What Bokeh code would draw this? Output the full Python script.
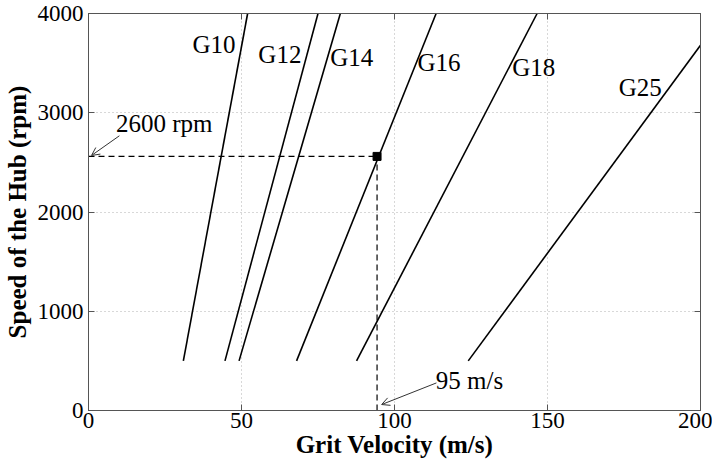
from bokeh.plotting import figure
from bokeh.embed import file_html
from bokeh.resources import INLINE
from bokeh.models import (Range1d, LinearAxis, FixedTicker, Arrow, OpenHead,
                          ColumnDataSource, Label)
from bokeh.core.properties import value

# ---- data ----
grades = ["G10", "G12", "G14", "G16", "G18", "G25"]
v_start = [31.0, 44.6, 49.2, 68.0, 87.6, 124.1]
rpm_start = [500, 500, 500, 500, 500, 500]
v_end = [52.0, 75.0, 82.3, 113.6, 146.6, 200.0]
rpm_end = [4000, 4000, 4000, 4000, 4000, 3680]

label_x = [34.0, 55.5, 79.0, 107.5, 138.5, 173.3]
label_y = [3690, 3590, 3555, 3505, 3455, 3255]

op_velocity = 94.3
op_rpm = 2560
rpm_text = "2600 rpm"
vel_text = "95 m/s"

x_ticks = [0, 50, 100, 150, 200]
y_ticks = [0, 1000, 2000, 3000, 4000]
x_title = "Grit Velocity (m/s)"
y_title = "Speed of the Hub (rpm)"

FONT = "Liberation Serif"
TXT = "25px"

p = figure(width=712, height=460, output_backend="svg", toolbar_location=None,
           x_range=Range1d(0, 200), y_range=Range1d(0, 4000),
           min_border_left=86, min_border_right=12, min_border_top=13,
           min_border_bottom=46)
p.outline_line_color = "#555555"
p.background_fill_color = "white"
p.border_fill_color = "white"

for ax in (p.xaxis[0], p.yaxis[0]):
    ax.major_tick_in = 6
    ax.major_tick_out = 0
    ax.minor_tick_in = 0
    ax.minor_tick_out = 0
    ax.axis_line_color = "#555555"
    ax.major_tick_line_color = "#555555"
    ax.major_label_text_font = FONT
    ax.major_label_text_font_size = "23px"
    ax.major_label_text_color = "black"
    ax.axis_label_text_font = FONT
    ax.axis_label_text_font_style = "bold"
    ax.axis_label_text_font_size = "25px"
    ax.axis_label_text_color = "black"

p.xaxis.ticker = FixedTicker(ticks=x_ticks)
p.yaxis.ticker = FixedTicker(ticks=y_ticks)
p.xaxis.axis_label = x_title
p.yaxis.axis_label = y_title
p.xaxis.axis_label_standoff = 0
p.yaxis.axis_label_standoff = 4
p.xaxis.major_label_standoff = 2
p.yaxis.major_label_standoff = 5

# mirror axes (ticks only)
top = LinearAxis(ticker=FixedTicker(ticks=x_ticks), major_label_text_font_size="0px",
                 major_tick_in=6, major_tick_out=0, minor_tick_in=0, minor_tick_out=0,
                 axis_line_color="#555555", major_tick_line_color="#555555")
right = LinearAxis(ticker=FixedTicker(ticks=y_ticks), major_label_text_font_size="0px",
                   major_tick_in=6, major_tick_out=0, minor_tick_in=0, minor_tick_out=0,
                   axis_line_color="#555555", major_tick_line_color="#555555")
top.major_label_overrides = {t: "" for t in x_ticks}
right.major_label_overrides = {t: "" for t in y_ticks}
top.major_label_standoff = 0
right.major_label_standoff = 0
p.add_layout(top, "above")
p.add_layout(right, "right")

for g in (p.xgrid[0], p.ygrid[0]):
    g.grid_line_color = "#b0b0b0"
    g.grid_line_dash = "1 3"
    g.grid_line_width = 1

src = ColumnDataSource(dict(x0=v_start, y0=rpm_start, x1=v_end, y1=rpm_end))
p.segment("x0", "y0", "x1", "y1", source=src, line_color="black", line_width=1.6)

lsrc = ColumnDataSource(dict(x=label_x, y=label_y, t=grades))
p.text("x", "y", text="t", source=lsrc, text_font=value(FONT), text_font_size=TXT,
       text_baseline="middle", text_align="left", text_color="black")

# operating point guides
p.segment([0, op_velocity], [op_rpm, 0], [op_velocity, op_velocity], [op_rpm, op_rpm],
          line_color="black", line_width=1.2, line_dash="6 4")
p.scatter([op_velocity], [op_rpm], marker="square", size=8, color="black")

p.add_layout(Label(x=9.0, y=2890, text=rpm_text, text_font=FONT, text_font_size=TXT,
                   text_baseline="middle", text_color="black"))
p.add_layout(Label(x=113.5, y=305, text=vel_text, text_font=FONT, text_font_size=TXT,
                   text_baseline="middle", text_color="black"))
p.add_layout(Arrow(x_start=10.1, y_start=2768, x_end=1.0, y_end=2570,
                   line_color="#333333", line_width=1,
                   end=OpenHead(size=8, line_color="#333333", line_width=1)))
p.add_layout(Arrow(x_start=113.7, y_start=278, x_end=95.8, y_end=60,
                   line_color="#333333", line_width=1,
                   end=OpenHead(size=8, line_color="#333333", line_width=1)))

open("out.html", "w").write(file_html(p, INLINE))
